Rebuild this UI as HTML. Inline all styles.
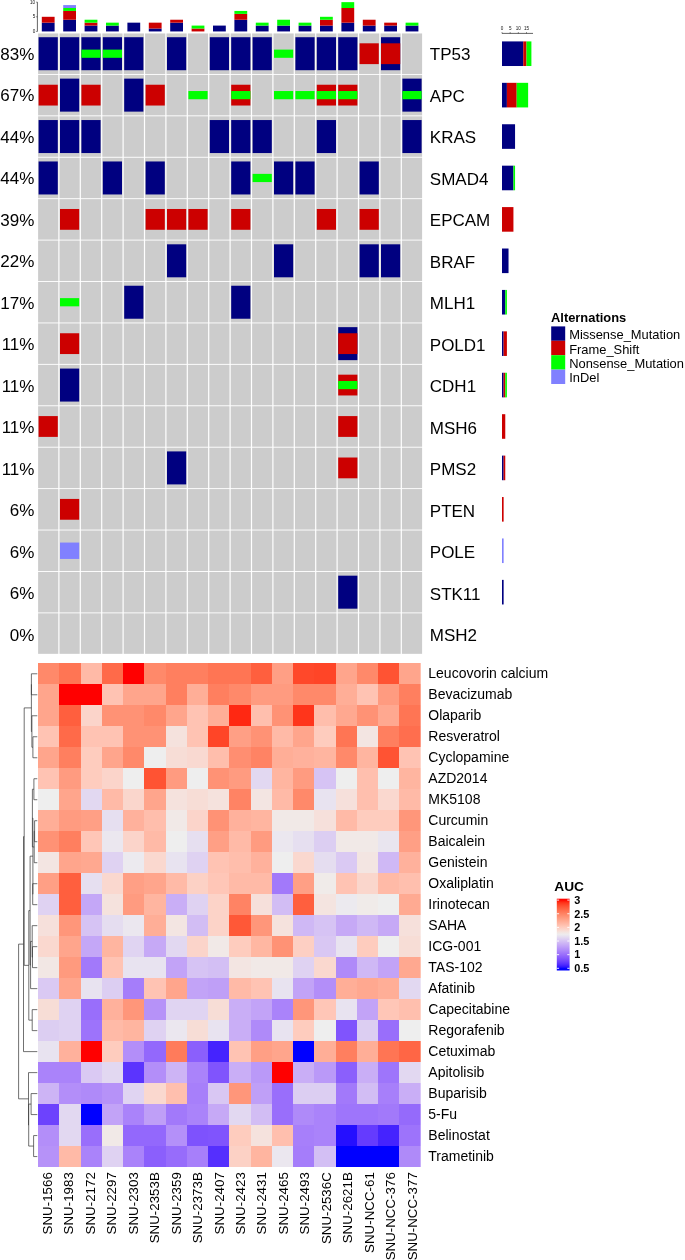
<!DOCTYPE html>
<html><head><meta charset="utf-8"><title>Oncoprint and drug response heatmap</title>
<style>html,body{margin:0;padding:0;background:#fff}body{width:685px;height:1260px;overflow:hidden;font-family:"Liberation Sans",sans-serif}svg{display:block;will-change:transform}</style>
</head><body>
<svg width="685" height="1260" viewBox="0 0 685 1260" font-family="Liberation Sans, sans-serif">
<rect width="685" height="1260" fill="#fff"/>
<g shape-rendering="auto">
<rect x="38.10" y="33.46" width="20.2" height="40.5" fill="#CCCCCC"/>
<rect x="59.50" y="33.46" width="20.2" height="40.5" fill="#CCCCCC"/>
<rect x="80.90" y="33.46" width="20.2" height="40.5" fill="#CCCCCC"/>
<rect x="102.30" y="33.46" width="20.2" height="40.5" fill="#CCCCCC"/>
<rect x="123.70" y="33.46" width="20.2" height="40.5" fill="#CCCCCC"/>
<rect x="145.10" y="33.46" width="20.2" height="40.5" fill="#CCCCCC"/>
<rect x="166.50" y="33.46" width="20.2" height="40.5" fill="#CCCCCC"/>
<rect x="187.90" y="33.46" width="20.2" height="40.5" fill="#CCCCCC"/>
<rect x="209.30" y="33.46" width="20.2" height="40.5" fill="#CCCCCC"/>
<rect x="230.70" y="33.46" width="20.2" height="40.5" fill="#CCCCCC"/>
<rect x="252.10" y="33.46" width="20.2" height="40.5" fill="#CCCCCC"/>
<rect x="273.50" y="33.46" width="20.2" height="40.5" fill="#CCCCCC"/>
<rect x="294.90" y="33.46" width="20.2" height="40.5" fill="#CCCCCC"/>
<rect x="316.30" y="33.46" width="20.2" height="40.5" fill="#CCCCCC"/>
<rect x="337.70" y="33.46" width="20.2" height="40.5" fill="#CCCCCC"/>
<rect x="359.10" y="33.46" width="20.2" height="40.5" fill="#CCCCCC"/>
<rect x="380.50" y="33.46" width="20.2" height="40.5" fill="#CCCCCC"/>
<rect x="401.90" y="33.46" width="20.2" height="40.5" fill="#CCCCCC"/>
<rect x="38.60" y="37.21" width="19.2" height="33.0" fill="#000080"/>
<rect x="60.00" y="37.21" width="19.2" height="33.0" fill="#000080"/>
<rect x="81.40" y="37.21" width="19.2" height="33.0" fill="#000080"/>
<rect x="81.40" y="49.61" width="19.2" height="8.2" fill="#00FF00"/>
<rect x="102.80" y="37.21" width="19.2" height="33.0" fill="#000080"/>
<rect x="102.80" y="49.61" width="19.2" height="8.2" fill="#00FF00"/>
<rect x="124.20" y="37.21" width="19.2" height="33.0" fill="#000080"/>
<rect x="167.00" y="37.21" width="19.2" height="33.0" fill="#000080"/>
<rect x="209.80" y="37.21" width="19.2" height="33.0" fill="#000080"/>
<rect x="231.20" y="37.21" width="19.2" height="33.0" fill="#000080"/>
<rect x="252.60" y="37.21" width="19.2" height="33.0" fill="#000080"/>
<rect x="274.00" y="49.61" width="19.2" height="8.2" fill="#00FF00"/>
<rect x="295.40" y="37.21" width="19.2" height="33.0" fill="#000080"/>
<rect x="316.80" y="37.21" width="19.2" height="33.0" fill="#000080"/>
<rect x="338.20" y="37.21" width="19.2" height="33.0" fill="#000080"/>
<rect x="359.60" y="43.31" width="19.2" height="20.8" fill="#CC0000"/>
<rect x="381.00" y="37.21" width="19.2" height="33.0" fill="#000080"/>
<rect x="381.00" y="43.31" width="19.2" height="20.8" fill="#CC0000"/>
<rect x="38.10" y="74.88" width="20.2" height="40.5" fill="#CCCCCC"/>
<rect x="59.50" y="74.88" width="20.2" height="40.5" fill="#CCCCCC"/>
<rect x="80.90" y="74.88" width="20.2" height="40.5" fill="#CCCCCC"/>
<rect x="102.30" y="74.88" width="20.2" height="40.5" fill="#CCCCCC"/>
<rect x="123.70" y="74.88" width="20.2" height="40.5" fill="#CCCCCC"/>
<rect x="145.10" y="74.88" width="20.2" height="40.5" fill="#CCCCCC"/>
<rect x="166.50" y="74.88" width="20.2" height="40.5" fill="#CCCCCC"/>
<rect x="187.90" y="74.88" width="20.2" height="40.5" fill="#CCCCCC"/>
<rect x="209.30" y="74.88" width="20.2" height="40.5" fill="#CCCCCC"/>
<rect x="230.70" y="74.88" width="20.2" height="40.5" fill="#CCCCCC"/>
<rect x="252.10" y="74.88" width="20.2" height="40.5" fill="#CCCCCC"/>
<rect x="273.50" y="74.88" width="20.2" height="40.5" fill="#CCCCCC"/>
<rect x="294.90" y="74.88" width="20.2" height="40.5" fill="#CCCCCC"/>
<rect x="316.30" y="74.88" width="20.2" height="40.5" fill="#CCCCCC"/>
<rect x="337.70" y="74.88" width="20.2" height="40.5" fill="#CCCCCC"/>
<rect x="359.10" y="74.88" width="20.2" height="40.5" fill="#CCCCCC"/>
<rect x="380.50" y="74.88" width="20.2" height="40.5" fill="#CCCCCC"/>
<rect x="401.90" y="74.88" width="20.2" height="40.5" fill="#CCCCCC"/>
<rect x="38.60" y="84.73" width="19.2" height="20.8" fill="#CC0000"/>
<rect x="60.00" y="78.63" width="19.2" height="33.0" fill="#000080"/>
<rect x="81.40" y="84.73" width="19.2" height="20.8" fill="#CC0000"/>
<rect x="124.20" y="78.63" width="19.2" height="33.0" fill="#000080"/>
<rect x="145.60" y="84.73" width="19.2" height="20.8" fill="#CC0000"/>
<rect x="188.40" y="91.03" width="19.2" height="8.2" fill="#00FF00"/>
<rect x="231.20" y="84.73" width="19.2" height="20.8" fill="#CC0000"/>
<rect x="231.20" y="91.03" width="19.2" height="8.2" fill="#00FF00"/>
<rect x="274.00" y="91.03" width="19.2" height="8.2" fill="#00FF00"/>
<rect x="295.40" y="91.03" width="19.2" height="8.2" fill="#00FF00"/>
<rect x="316.80" y="84.73" width="19.2" height="20.8" fill="#CC0000"/>
<rect x="316.80" y="91.03" width="19.2" height="8.2" fill="#00FF00"/>
<rect x="338.20" y="84.73" width="19.2" height="20.8" fill="#CC0000"/>
<rect x="338.20" y="91.03" width="19.2" height="8.2" fill="#00FF00"/>
<rect x="402.40" y="78.63" width="19.2" height="33.0" fill="#000080"/>
<rect x="402.40" y="91.03" width="19.2" height="8.2" fill="#00FF00"/>
<rect x="38.10" y="116.30" width="20.2" height="40.5" fill="#CCCCCC"/>
<rect x="59.50" y="116.30" width="20.2" height="40.5" fill="#CCCCCC"/>
<rect x="80.90" y="116.30" width="20.2" height="40.5" fill="#CCCCCC"/>
<rect x="102.30" y="116.30" width="20.2" height="40.5" fill="#CCCCCC"/>
<rect x="123.70" y="116.30" width="20.2" height="40.5" fill="#CCCCCC"/>
<rect x="145.10" y="116.30" width="20.2" height="40.5" fill="#CCCCCC"/>
<rect x="166.50" y="116.30" width="20.2" height="40.5" fill="#CCCCCC"/>
<rect x="187.90" y="116.30" width="20.2" height="40.5" fill="#CCCCCC"/>
<rect x="209.30" y="116.30" width="20.2" height="40.5" fill="#CCCCCC"/>
<rect x="230.70" y="116.30" width="20.2" height="40.5" fill="#CCCCCC"/>
<rect x="252.10" y="116.30" width="20.2" height="40.5" fill="#CCCCCC"/>
<rect x="273.50" y="116.30" width="20.2" height="40.5" fill="#CCCCCC"/>
<rect x="294.90" y="116.30" width="20.2" height="40.5" fill="#CCCCCC"/>
<rect x="316.30" y="116.30" width="20.2" height="40.5" fill="#CCCCCC"/>
<rect x="337.70" y="116.30" width="20.2" height="40.5" fill="#CCCCCC"/>
<rect x="359.10" y="116.30" width="20.2" height="40.5" fill="#CCCCCC"/>
<rect x="380.50" y="116.30" width="20.2" height="40.5" fill="#CCCCCC"/>
<rect x="401.90" y="116.30" width="20.2" height="40.5" fill="#CCCCCC"/>
<rect x="38.60" y="120.05" width="19.2" height="33.0" fill="#000080"/>
<rect x="60.00" y="120.05" width="19.2" height="33.0" fill="#000080"/>
<rect x="81.40" y="120.05" width="19.2" height="33.0" fill="#000080"/>
<rect x="209.80" y="120.05" width="19.2" height="33.0" fill="#000080"/>
<rect x="231.20" y="120.05" width="19.2" height="33.0" fill="#000080"/>
<rect x="252.60" y="120.05" width="19.2" height="33.0" fill="#000080"/>
<rect x="316.80" y="120.05" width="19.2" height="33.0" fill="#000080"/>
<rect x="402.40" y="120.05" width="19.2" height="33.0" fill="#000080"/>
<rect x="38.10" y="157.72" width="20.2" height="40.5" fill="#CCCCCC"/>
<rect x="59.50" y="157.72" width="20.2" height="40.5" fill="#CCCCCC"/>
<rect x="80.90" y="157.72" width="20.2" height="40.5" fill="#CCCCCC"/>
<rect x="102.30" y="157.72" width="20.2" height="40.5" fill="#CCCCCC"/>
<rect x="123.70" y="157.72" width="20.2" height="40.5" fill="#CCCCCC"/>
<rect x="145.10" y="157.72" width="20.2" height="40.5" fill="#CCCCCC"/>
<rect x="166.50" y="157.72" width="20.2" height="40.5" fill="#CCCCCC"/>
<rect x="187.90" y="157.72" width="20.2" height="40.5" fill="#CCCCCC"/>
<rect x="209.30" y="157.72" width="20.2" height="40.5" fill="#CCCCCC"/>
<rect x="230.70" y="157.72" width="20.2" height="40.5" fill="#CCCCCC"/>
<rect x="252.10" y="157.72" width="20.2" height="40.5" fill="#CCCCCC"/>
<rect x="273.50" y="157.72" width="20.2" height="40.5" fill="#CCCCCC"/>
<rect x="294.90" y="157.72" width="20.2" height="40.5" fill="#CCCCCC"/>
<rect x="316.30" y="157.72" width="20.2" height="40.5" fill="#CCCCCC"/>
<rect x="337.70" y="157.72" width="20.2" height="40.5" fill="#CCCCCC"/>
<rect x="359.10" y="157.72" width="20.2" height="40.5" fill="#CCCCCC"/>
<rect x="380.50" y="157.72" width="20.2" height="40.5" fill="#CCCCCC"/>
<rect x="401.90" y="157.72" width="20.2" height="40.5" fill="#CCCCCC"/>
<rect x="38.60" y="161.47" width="19.2" height="33.0" fill="#000080"/>
<rect x="102.80" y="161.47" width="19.2" height="33.0" fill="#000080"/>
<rect x="145.60" y="161.47" width="19.2" height="33.0" fill="#000080"/>
<rect x="231.20" y="161.47" width="19.2" height="33.0" fill="#000080"/>
<rect x="252.60" y="173.87" width="19.2" height="8.2" fill="#00FF00"/>
<rect x="274.00" y="161.47" width="19.2" height="33.0" fill="#000080"/>
<rect x="295.40" y="161.47" width="19.2" height="33.0" fill="#000080"/>
<rect x="359.60" y="161.47" width="19.2" height="33.0" fill="#000080"/>
<rect x="38.10" y="199.14" width="20.2" height="40.5" fill="#CCCCCC"/>
<rect x="59.50" y="199.14" width="20.2" height="40.5" fill="#CCCCCC"/>
<rect x="80.90" y="199.14" width="20.2" height="40.5" fill="#CCCCCC"/>
<rect x="102.30" y="199.14" width="20.2" height="40.5" fill="#CCCCCC"/>
<rect x="123.70" y="199.14" width="20.2" height="40.5" fill="#CCCCCC"/>
<rect x="145.10" y="199.14" width="20.2" height="40.5" fill="#CCCCCC"/>
<rect x="166.50" y="199.14" width="20.2" height="40.5" fill="#CCCCCC"/>
<rect x="187.90" y="199.14" width="20.2" height="40.5" fill="#CCCCCC"/>
<rect x="209.30" y="199.14" width="20.2" height="40.5" fill="#CCCCCC"/>
<rect x="230.70" y="199.14" width="20.2" height="40.5" fill="#CCCCCC"/>
<rect x="252.10" y="199.14" width="20.2" height="40.5" fill="#CCCCCC"/>
<rect x="273.50" y="199.14" width="20.2" height="40.5" fill="#CCCCCC"/>
<rect x="294.90" y="199.14" width="20.2" height="40.5" fill="#CCCCCC"/>
<rect x="316.30" y="199.14" width="20.2" height="40.5" fill="#CCCCCC"/>
<rect x="337.70" y="199.14" width="20.2" height="40.5" fill="#CCCCCC"/>
<rect x="359.10" y="199.14" width="20.2" height="40.5" fill="#CCCCCC"/>
<rect x="380.50" y="199.14" width="20.2" height="40.5" fill="#CCCCCC"/>
<rect x="401.90" y="199.14" width="20.2" height="40.5" fill="#CCCCCC"/>
<rect x="60.00" y="208.99" width="19.2" height="20.8" fill="#CC0000"/>
<rect x="145.60" y="208.99" width="19.2" height="20.8" fill="#CC0000"/>
<rect x="167.00" y="208.99" width="19.2" height="20.8" fill="#CC0000"/>
<rect x="188.40" y="208.99" width="19.2" height="20.8" fill="#CC0000"/>
<rect x="231.20" y="208.99" width="19.2" height="20.8" fill="#CC0000"/>
<rect x="316.80" y="208.99" width="19.2" height="20.8" fill="#CC0000"/>
<rect x="359.60" y="208.99" width="19.2" height="20.8" fill="#CC0000"/>
<rect x="38.10" y="240.56" width="20.2" height="40.5" fill="#CCCCCC"/>
<rect x="59.50" y="240.56" width="20.2" height="40.5" fill="#CCCCCC"/>
<rect x="80.90" y="240.56" width="20.2" height="40.5" fill="#CCCCCC"/>
<rect x="102.30" y="240.56" width="20.2" height="40.5" fill="#CCCCCC"/>
<rect x="123.70" y="240.56" width="20.2" height="40.5" fill="#CCCCCC"/>
<rect x="145.10" y="240.56" width="20.2" height="40.5" fill="#CCCCCC"/>
<rect x="166.50" y="240.56" width="20.2" height="40.5" fill="#CCCCCC"/>
<rect x="187.90" y="240.56" width="20.2" height="40.5" fill="#CCCCCC"/>
<rect x="209.30" y="240.56" width="20.2" height="40.5" fill="#CCCCCC"/>
<rect x="230.70" y="240.56" width="20.2" height="40.5" fill="#CCCCCC"/>
<rect x="252.10" y="240.56" width="20.2" height="40.5" fill="#CCCCCC"/>
<rect x="273.50" y="240.56" width="20.2" height="40.5" fill="#CCCCCC"/>
<rect x="294.90" y="240.56" width="20.2" height="40.5" fill="#CCCCCC"/>
<rect x="316.30" y="240.56" width="20.2" height="40.5" fill="#CCCCCC"/>
<rect x="337.70" y="240.56" width="20.2" height="40.5" fill="#CCCCCC"/>
<rect x="359.10" y="240.56" width="20.2" height="40.5" fill="#CCCCCC"/>
<rect x="380.50" y="240.56" width="20.2" height="40.5" fill="#CCCCCC"/>
<rect x="401.90" y="240.56" width="20.2" height="40.5" fill="#CCCCCC"/>
<rect x="167.00" y="244.31" width="19.2" height="33.0" fill="#000080"/>
<rect x="274.00" y="244.31" width="19.2" height="33.0" fill="#000080"/>
<rect x="359.60" y="244.31" width="19.2" height="33.0" fill="#000080"/>
<rect x="381.00" y="244.31" width="19.2" height="33.0" fill="#000080"/>
<rect x="38.10" y="281.98" width="20.2" height="40.5" fill="#CCCCCC"/>
<rect x="59.50" y="281.98" width="20.2" height="40.5" fill="#CCCCCC"/>
<rect x="80.90" y="281.98" width="20.2" height="40.5" fill="#CCCCCC"/>
<rect x="102.30" y="281.98" width="20.2" height="40.5" fill="#CCCCCC"/>
<rect x="123.70" y="281.98" width="20.2" height="40.5" fill="#CCCCCC"/>
<rect x="145.10" y="281.98" width="20.2" height="40.5" fill="#CCCCCC"/>
<rect x="166.50" y="281.98" width="20.2" height="40.5" fill="#CCCCCC"/>
<rect x="187.90" y="281.98" width="20.2" height="40.5" fill="#CCCCCC"/>
<rect x="209.30" y="281.98" width="20.2" height="40.5" fill="#CCCCCC"/>
<rect x="230.70" y="281.98" width="20.2" height="40.5" fill="#CCCCCC"/>
<rect x="252.10" y="281.98" width="20.2" height="40.5" fill="#CCCCCC"/>
<rect x="273.50" y="281.98" width="20.2" height="40.5" fill="#CCCCCC"/>
<rect x="294.90" y="281.98" width="20.2" height="40.5" fill="#CCCCCC"/>
<rect x="316.30" y="281.98" width="20.2" height="40.5" fill="#CCCCCC"/>
<rect x="337.70" y="281.98" width="20.2" height="40.5" fill="#CCCCCC"/>
<rect x="359.10" y="281.98" width="20.2" height="40.5" fill="#CCCCCC"/>
<rect x="380.50" y="281.98" width="20.2" height="40.5" fill="#CCCCCC"/>
<rect x="401.90" y="281.98" width="20.2" height="40.5" fill="#CCCCCC"/>
<rect x="60.00" y="298.13" width="19.2" height="8.2" fill="#00FF00"/>
<rect x="124.20" y="285.73" width="19.2" height="33.0" fill="#000080"/>
<rect x="231.20" y="285.73" width="19.2" height="33.0" fill="#000080"/>
<rect x="38.10" y="323.40" width="20.2" height="40.5" fill="#CCCCCC"/>
<rect x="59.50" y="323.40" width="20.2" height="40.5" fill="#CCCCCC"/>
<rect x="80.90" y="323.40" width="20.2" height="40.5" fill="#CCCCCC"/>
<rect x="102.30" y="323.40" width="20.2" height="40.5" fill="#CCCCCC"/>
<rect x="123.70" y="323.40" width="20.2" height="40.5" fill="#CCCCCC"/>
<rect x="145.10" y="323.40" width="20.2" height="40.5" fill="#CCCCCC"/>
<rect x="166.50" y="323.40" width="20.2" height="40.5" fill="#CCCCCC"/>
<rect x="187.90" y="323.40" width="20.2" height="40.5" fill="#CCCCCC"/>
<rect x="209.30" y="323.40" width="20.2" height="40.5" fill="#CCCCCC"/>
<rect x="230.70" y="323.40" width="20.2" height="40.5" fill="#CCCCCC"/>
<rect x="252.10" y="323.40" width="20.2" height="40.5" fill="#CCCCCC"/>
<rect x="273.50" y="323.40" width="20.2" height="40.5" fill="#CCCCCC"/>
<rect x="294.90" y="323.40" width="20.2" height="40.5" fill="#CCCCCC"/>
<rect x="316.30" y="323.40" width="20.2" height="40.5" fill="#CCCCCC"/>
<rect x="337.70" y="323.40" width="20.2" height="40.5" fill="#CCCCCC"/>
<rect x="359.10" y="323.40" width="20.2" height="40.5" fill="#CCCCCC"/>
<rect x="380.50" y="323.40" width="20.2" height="40.5" fill="#CCCCCC"/>
<rect x="401.90" y="323.40" width="20.2" height="40.5" fill="#CCCCCC"/>
<rect x="60.00" y="333.25" width="19.2" height="20.8" fill="#CC0000"/>
<rect x="338.20" y="327.15" width="19.2" height="33.0" fill="#000080"/>
<rect x="338.20" y="333.25" width="19.2" height="20.8" fill="#CC0000"/>
<rect x="38.10" y="364.82" width="20.2" height="40.5" fill="#CCCCCC"/>
<rect x="59.50" y="364.82" width="20.2" height="40.5" fill="#CCCCCC"/>
<rect x="80.90" y="364.82" width="20.2" height="40.5" fill="#CCCCCC"/>
<rect x="102.30" y="364.82" width="20.2" height="40.5" fill="#CCCCCC"/>
<rect x="123.70" y="364.82" width="20.2" height="40.5" fill="#CCCCCC"/>
<rect x="145.10" y="364.82" width="20.2" height="40.5" fill="#CCCCCC"/>
<rect x="166.50" y="364.82" width="20.2" height="40.5" fill="#CCCCCC"/>
<rect x="187.90" y="364.82" width="20.2" height="40.5" fill="#CCCCCC"/>
<rect x="209.30" y="364.82" width="20.2" height="40.5" fill="#CCCCCC"/>
<rect x="230.70" y="364.82" width="20.2" height="40.5" fill="#CCCCCC"/>
<rect x="252.10" y="364.82" width="20.2" height="40.5" fill="#CCCCCC"/>
<rect x="273.50" y="364.82" width="20.2" height="40.5" fill="#CCCCCC"/>
<rect x="294.90" y="364.82" width="20.2" height="40.5" fill="#CCCCCC"/>
<rect x="316.30" y="364.82" width="20.2" height="40.5" fill="#CCCCCC"/>
<rect x="337.70" y="364.82" width="20.2" height="40.5" fill="#CCCCCC"/>
<rect x="359.10" y="364.82" width="20.2" height="40.5" fill="#CCCCCC"/>
<rect x="380.50" y="364.82" width="20.2" height="40.5" fill="#CCCCCC"/>
<rect x="401.90" y="364.82" width="20.2" height="40.5" fill="#CCCCCC"/>
<rect x="60.00" y="368.57" width="19.2" height="33.0" fill="#000080"/>
<rect x="338.20" y="374.67" width="19.2" height="20.8" fill="#CC0000"/>
<rect x="338.20" y="380.97" width="19.2" height="8.2" fill="#00FF00"/>
<rect x="38.10" y="406.24" width="20.2" height="40.5" fill="#CCCCCC"/>
<rect x="59.50" y="406.24" width="20.2" height="40.5" fill="#CCCCCC"/>
<rect x="80.90" y="406.24" width="20.2" height="40.5" fill="#CCCCCC"/>
<rect x="102.30" y="406.24" width="20.2" height="40.5" fill="#CCCCCC"/>
<rect x="123.70" y="406.24" width="20.2" height="40.5" fill="#CCCCCC"/>
<rect x="145.10" y="406.24" width="20.2" height="40.5" fill="#CCCCCC"/>
<rect x="166.50" y="406.24" width="20.2" height="40.5" fill="#CCCCCC"/>
<rect x="187.90" y="406.24" width="20.2" height="40.5" fill="#CCCCCC"/>
<rect x="209.30" y="406.24" width="20.2" height="40.5" fill="#CCCCCC"/>
<rect x="230.70" y="406.24" width="20.2" height="40.5" fill="#CCCCCC"/>
<rect x="252.10" y="406.24" width="20.2" height="40.5" fill="#CCCCCC"/>
<rect x="273.50" y="406.24" width="20.2" height="40.5" fill="#CCCCCC"/>
<rect x="294.90" y="406.24" width="20.2" height="40.5" fill="#CCCCCC"/>
<rect x="316.30" y="406.24" width="20.2" height="40.5" fill="#CCCCCC"/>
<rect x="337.70" y="406.24" width="20.2" height="40.5" fill="#CCCCCC"/>
<rect x="359.10" y="406.24" width="20.2" height="40.5" fill="#CCCCCC"/>
<rect x="380.50" y="406.24" width="20.2" height="40.5" fill="#CCCCCC"/>
<rect x="401.90" y="406.24" width="20.2" height="40.5" fill="#CCCCCC"/>
<rect x="38.60" y="416.09" width="19.2" height="20.8" fill="#CC0000"/>
<rect x="338.20" y="416.09" width="19.2" height="20.8" fill="#CC0000"/>
<rect x="38.10" y="447.66" width="20.2" height="40.5" fill="#CCCCCC"/>
<rect x="59.50" y="447.66" width="20.2" height="40.5" fill="#CCCCCC"/>
<rect x="80.90" y="447.66" width="20.2" height="40.5" fill="#CCCCCC"/>
<rect x="102.30" y="447.66" width="20.2" height="40.5" fill="#CCCCCC"/>
<rect x="123.70" y="447.66" width="20.2" height="40.5" fill="#CCCCCC"/>
<rect x="145.10" y="447.66" width="20.2" height="40.5" fill="#CCCCCC"/>
<rect x="166.50" y="447.66" width="20.2" height="40.5" fill="#CCCCCC"/>
<rect x="187.90" y="447.66" width="20.2" height="40.5" fill="#CCCCCC"/>
<rect x="209.30" y="447.66" width="20.2" height="40.5" fill="#CCCCCC"/>
<rect x="230.70" y="447.66" width="20.2" height="40.5" fill="#CCCCCC"/>
<rect x="252.10" y="447.66" width="20.2" height="40.5" fill="#CCCCCC"/>
<rect x="273.50" y="447.66" width="20.2" height="40.5" fill="#CCCCCC"/>
<rect x="294.90" y="447.66" width="20.2" height="40.5" fill="#CCCCCC"/>
<rect x="316.30" y="447.66" width="20.2" height="40.5" fill="#CCCCCC"/>
<rect x="337.70" y="447.66" width="20.2" height="40.5" fill="#CCCCCC"/>
<rect x="359.10" y="447.66" width="20.2" height="40.5" fill="#CCCCCC"/>
<rect x="380.50" y="447.66" width="20.2" height="40.5" fill="#CCCCCC"/>
<rect x="401.90" y="447.66" width="20.2" height="40.5" fill="#CCCCCC"/>
<rect x="167.00" y="451.41" width="19.2" height="33.0" fill="#000080"/>
<rect x="338.20" y="457.51" width="19.2" height="20.8" fill="#CC0000"/>
<rect x="38.10" y="489.08" width="20.2" height="40.5" fill="#CCCCCC"/>
<rect x="59.50" y="489.08" width="20.2" height="40.5" fill="#CCCCCC"/>
<rect x="80.90" y="489.08" width="20.2" height="40.5" fill="#CCCCCC"/>
<rect x="102.30" y="489.08" width="20.2" height="40.5" fill="#CCCCCC"/>
<rect x="123.70" y="489.08" width="20.2" height="40.5" fill="#CCCCCC"/>
<rect x="145.10" y="489.08" width="20.2" height="40.5" fill="#CCCCCC"/>
<rect x="166.50" y="489.08" width="20.2" height="40.5" fill="#CCCCCC"/>
<rect x="187.90" y="489.08" width="20.2" height="40.5" fill="#CCCCCC"/>
<rect x="209.30" y="489.08" width="20.2" height="40.5" fill="#CCCCCC"/>
<rect x="230.70" y="489.08" width="20.2" height="40.5" fill="#CCCCCC"/>
<rect x="252.10" y="489.08" width="20.2" height="40.5" fill="#CCCCCC"/>
<rect x="273.50" y="489.08" width="20.2" height="40.5" fill="#CCCCCC"/>
<rect x="294.90" y="489.08" width="20.2" height="40.5" fill="#CCCCCC"/>
<rect x="316.30" y="489.08" width="20.2" height="40.5" fill="#CCCCCC"/>
<rect x="337.70" y="489.08" width="20.2" height="40.5" fill="#CCCCCC"/>
<rect x="359.10" y="489.08" width="20.2" height="40.5" fill="#CCCCCC"/>
<rect x="380.50" y="489.08" width="20.2" height="40.5" fill="#CCCCCC"/>
<rect x="401.90" y="489.08" width="20.2" height="40.5" fill="#CCCCCC"/>
<rect x="60.00" y="498.93" width="19.2" height="20.8" fill="#CC0000"/>
<rect x="38.10" y="530.50" width="20.2" height="40.5" fill="#CCCCCC"/>
<rect x="59.50" y="530.50" width="20.2" height="40.5" fill="#CCCCCC"/>
<rect x="80.90" y="530.50" width="20.2" height="40.5" fill="#CCCCCC"/>
<rect x="102.30" y="530.50" width="20.2" height="40.5" fill="#CCCCCC"/>
<rect x="123.70" y="530.50" width="20.2" height="40.5" fill="#CCCCCC"/>
<rect x="145.10" y="530.50" width="20.2" height="40.5" fill="#CCCCCC"/>
<rect x="166.50" y="530.50" width="20.2" height="40.5" fill="#CCCCCC"/>
<rect x="187.90" y="530.50" width="20.2" height="40.5" fill="#CCCCCC"/>
<rect x="209.30" y="530.50" width="20.2" height="40.5" fill="#CCCCCC"/>
<rect x="230.70" y="530.50" width="20.2" height="40.5" fill="#CCCCCC"/>
<rect x="252.10" y="530.50" width="20.2" height="40.5" fill="#CCCCCC"/>
<rect x="273.50" y="530.50" width="20.2" height="40.5" fill="#CCCCCC"/>
<rect x="294.90" y="530.50" width="20.2" height="40.5" fill="#CCCCCC"/>
<rect x="316.30" y="530.50" width="20.2" height="40.5" fill="#CCCCCC"/>
<rect x="337.70" y="530.50" width="20.2" height="40.5" fill="#CCCCCC"/>
<rect x="359.10" y="530.50" width="20.2" height="40.5" fill="#CCCCCC"/>
<rect x="380.50" y="530.50" width="20.2" height="40.5" fill="#CCCCCC"/>
<rect x="401.90" y="530.50" width="20.2" height="40.5" fill="#CCCCCC"/>
<rect x="60.00" y="542.55" width="19.2" height="16.4" fill="#8080FF"/>
<rect x="38.10" y="571.92" width="20.2" height="40.5" fill="#CCCCCC"/>
<rect x="59.50" y="571.92" width="20.2" height="40.5" fill="#CCCCCC"/>
<rect x="80.90" y="571.92" width="20.2" height="40.5" fill="#CCCCCC"/>
<rect x="102.30" y="571.92" width="20.2" height="40.5" fill="#CCCCCC"/>
<rect x="123.70" y="571.92" width="20.2" height="40.5" fill="#CCCCCC"/>
<rect x="145.10" y="571.92" width="20.2" height="40.5" fill="#CCCCCC"/>
<rect x="166.50" y="571.92" width="20.2" height="40.5" fill="#CCCCCC"/>
<rect x="187.90" y="571.92" width="20.2" height="40.5" fill="#CCCCCC"/>
<rect x="209.30" y="571.92" width="20.2" height="40.5" fill="#CCCCCC"/>
<rect x="230.70" y="571.92" width="20.2" height="40.5" fill="#CCCCCC"/>
<rect x="252.10" y="571.92" width="20.2" height="40.5" fill="#CCCCCC"/>
<rect x="273.50" y="571.92" width="20.2" height="40.5" fill="#CCCCCC"/>
<rect x="294.90" y="571.92" width="20.2" height="40.5" fill="#CCCCCC"/>
<rect x="316.30" y="571.92" width="20.2" height="40.5" fill="#CCCCCC"/>
<rect x="337.70" y="571.92" width="20.2" height="40.5" fill="#CCCCCC"/>
<rect x="359.10" y="571.92" width="20.2" height="40.5" fill="#CCCCCC"/>
<rect x="380.50" y="571.92" width="20.2" height="40.5" fill="#CCCCCC"/>
<rect x="401.90" y="571.92" width="20.2" height="40.5" fill="#CCCCCC"/>
<rect x="338.20" y="575.67" width="19.2" height="33.0" fill="#000080"/>
<rect x="38.10" y="613.34" width="20.2" height="40.5" fill="#CCCCCC"/>
<rect x="59.50" y="613.34" width="20.2" height="40.5" fill="#CCCCCC"/>
<rect x="80.90" y="613.34" width="20.2" height="40.5" fill="#CCCCCC"/>
<rect x="102.30" y="613.34" width="20.2" height="40.5" fill="#CCCCCC"/>
<rect x="123.70" y="613.34" width="20.2" height="40.5" fill="#CCCCCC"/>
<rect x="145.10" y="613.34" width="20.2" height="40.5" fill="#CCCCCC"/>
<rect x="166.50" y="613.34" width="20.2" height="40.5" fill="#CCCCCC"/>
<rect x="187.90" y="613.34" width="20.2" height="40.5" fill="#CCCCCC"/>
<rect x="209.30" y="613.34" width="20.2" height="40.5" fill="#CCCCCC"/>
<rect x="230.70" y="613.34" width="20.2" height="40.5" fill="#CCCCCC"/>
<rect x="252.10" y="613.34" width="20.2" height="40.5" fill="#CCCCCC"/>
<rect x="273.50" y="613.34" width="20.2" height="40.5" fill="#CCCCCC"/>
<rect x="294.90" y="613.34" width="20.2" height="40.5" fill="#CCCCCC"/>
<rect x="316.30" y="613.34" width="20.2" height="40.5" fill="#CCCCCC"/>
<rect x="337.70" y="613.34" width="20.2" height="40.5" fill="#CCCCCC"/>
<rect x="359.10" y="613.34" width="20.2" height="40.5" fill="#CCCCCC"/>
<rect x="380.50" y="613.34" width="20.2" height="40.5" fill="#CCCCCC"/>
<rect x="401.90" y="613.34" width="20.2" height="40.5" fill="#CCCCCC"/>
</g>
<rect x="41.80" y="22.66" width="12.8" height="8.79" fill="#000080"/>
<rect x="41.80" y="16.80" width="12.8" height="5.86" fill="#CC0000"/>
<rect x="63.20" y="19.73" width="12.8" height="11.72" fill="#000080"/>
<rect x="63.20" y="10.94" width="12.8" height="8.79" fill="#CC0000"/>
<rect x="63.20" y="8.01" width="12.8" height="2.93" fill="#00FF00"/>
<rect x="63.20" y="5.08" width="12.8" height="2.93" fill="#8080FF"/>
<rect x="84.60" y="25.59" width="12.8" height="5.86" fill="#000080"/>
<rect x="84.60" y="22.66" width="12.8" height="2.93" fill="#CC0000"/>
<rect x="84.60" y="19.73" width="12.8" height="2.93" fill="#00FF00"/>
<rect x="106.00" y="25.59" width="12.8" height="5.86" fill="#000080"/>
<rect x="106.00" y="22.66" width="12.8" height="2.93" fill="#00FF00"/>
<rect x="127.40" y="22.66" width="12.8" height="8.79" fill="#000080"/>
<rect x="148.80" y="28.52" width="12.8" height="2.93" fill="#000080"/>
<rect x="148.80" y="22.66" width="12.8" height="5.86" fill="#CC0000"/>
<rect x="170.20" y="22.66" width="12.8" height="8.79" fill="#000080"/>
<rect x="170.20" y="19.73" width="12.8" height="2.93" fill="#CC0000"/>
<rect x="191.60" y="28.52" width="12.8" height="2.93" fill="#CC0000"/>
<rect x="191.60" y="25.59" width="12.8" height="2.93" fill="#00FF00"/>
<rect x="213.00" y="25.59" width="12.8" height="5.86" fill="#000080"/>
<rect x="234.40" y="19.73" width="12.8" height="11.72" fill="#000080"/>
<rect x="234.40" y="13.87" width="12.8" height="5.86" fill="#CC0000"/>
<rect x="234.40" y="10.94" width="12.8" height="2.93" fill="#00FF00"/>
<rect x="255.80" y="25.59" width="12.8" height="5.86" fill="#000080"/>
<rect x="255.80" y="22.66" width="12.8" height="2.93" fill="#00FF00"/>
<rect x="277.20" y="25.59" width="12.8" height="5.86" fill="#000080"/>
<rect x="277.20" y="19.73" width="12.8" height="5.86" fill="#00FF00"/>
<rect x="298.60" y="25.59" width="12.8" height="5.86" fill="#000080"/>
<rect x="298.60" y="22.66" width="12.8" height="2.93" fill="#00FF00"/>
<rect x="320.00" y="25.59" width="12.8" height="5.86" fill="#000080"/>
<rect x="320.00" y="19.73" width="12.8" height="5.86" fill="#CC0000"/>
<rect x="320.00" y="16.80" width="12.8" height="2.93" fill="#00FF00"/>
<rect x="341.40" y="22.66" width="12.8" height="8.79" fill="#000080"/>
<rect x="341.40" y="8.01" width="12.8" height="14.65" fill="#CC0000"/>
<rect x="341.40" y="2.15" width="12.8" height="5.86" fill="#00FF00"/>
<rect x="362.80" y="25.59" width="12.8" height="5.86" fill="#000080"/>
<rect x="362.80" y="19.73" width="12.8" height="5.86" fill="#CC0000"/>
<rect x="384.20" y="25.59" width="12.8" height="5.86" fill="#000080"/>
<rect x="384.20" y="22.66" width="12.8" height="2.93" fill="#CC0000"/>
<rect x="405.60" y="25.59" width="12.8" height="5.86" fill="#000080"/>
<rect x="405.60" y="22.66" width="12.8" height="2.93" fill="#00FF00"/>
<path d="M37.4 31.45 V2.15" stroke="#222" stroke-width="0.7" fill="none"/>
<path d="M36.199999999999996 31.45 H37.4" stroke="#222" stroke-width="0.6"/>
<text x="35.199999999999996" y="32.95" font-size="4.6" text-anchor="end" fill="#111">0</text>
<path d="M36.199999999999996 16.80 H37.4" stroke="#222" stroke-width="0.6"/>
<text x="35.199999999999996" y="18.30" font-size="4.6" text-anchor="end" fill="#111">5</text>
<path d="M36.199999999999996 2.15 H37.4" stroke="#222" stroke-width="0.6"/>
<text x="35.199999999999996" y="3.65" font-size="4.6" text-anchor="end" fill="#111">10</text>
<text x="34.4" y="59.75" font-size="17" text-anchor="end" fill="#000">83%</text>
<text x="429.8" y="60.45" font-size="17" fill="#000">TP53</text>
<text x="34.4" y="101.25" font-size="17" text-anchor="end" fill="#000">67%</text>
<text x="429.8" y="101.92" font-size="17" fill="#000">APC</text>
<text x="34.4" y="142.75" font-size="17" text-anchor="end" fill="#000">44%</text>
<text x="429.8" y="143.39" font-size="17" fill="#000">KRAS</text>
<text x="34.4" y="184.25" font-size="17" text-anchor="end" fill="#000">44%</text>
<text x="429.8" y="184.86" font-size="17" fill="#000">SMAD4</text>
<text x="34.4" y="225.75" font-size="17" text-anchor="end" fill="#000">39%</text>
<text x="429.8" y="226.33" font-size="17" fill="#000">EPCAM</text>
<text x="34.4" y="267.25" font-size="17" text-anchor="end" fill="#000">22%</text>
<text x="429.8" y="267.80" font-size="17" fill="#000">BRAF</text>
<text x="34.4" y="308.75" font-size="17" text-anchor="end" fill="#000">17%</text>
<text x="429.8" y="309.27" font-size="17" fill="#000">MLH1</text>
<text x="34.4" y="350.25" font-size="17" text-anchor="end" fill="#000">11%</text>
<text x="429.8" y="350.74" font-size="17" fill="#000">POLD1</text>
<text x="34.4" y="391.75" font-size="17" text-anchor="end" fill="#000">11%</text>
<text x="429.8" y="392.21" font-size="17" fill="#000">CDH1</text>
<text x="34.4" y="433.25" font-size="17" text-anchor="end" fill="#000">11%</text>
<text x="429.8" y="433.68" font-size="17" fill="#000">MSH6</text>
<text x="34.4" y="474.75" font-size="17" text-anchor="end" fill="#000">11%</text>
<text x="429.8" y="475.15" font-size="17" fill="#000">PMS2</text>
<text x="34.4" y="516.25" font-size="17" text-anchor="end" fill="#000">6%</text>
<text x="429.8" y="516.62" font-size="17" fill="#000">PTEN</text>
<text x="34.4" y="557.75" font-size="17" text-anchor="end" fill="#000">6%</text>
<text x="429.8" y="558.09" font-size="17" fill="#000">POLE</text>
<text x="34.4" y="599.25" font-size="17" text-anchor="end" fill="#000">6%</text>
<text x="429.8" y="599.56" font-size="17" fill="#000">STK11</text>
<text x="34.4" y="640.75" font-size="17" text-anchor="end" fill="#000">0%</text>
<text x="429.8" y="641.03" font-size="17" fill="#000">MSH2</text>
<rect x="502.00" y="41.41" width="21.23" height="24.6" fill="#000080"/>
<rect x="523.23" y="41.41" width="3.27" height="24.6" fill="#CC0000"/>
<rect x="526.50" y="41.41" width="4.90" height="24.6" fill="#00FF00"/>
<rect x="502.00" y="82.83" width="4.90" height="24.6" fill="#000080"/>
<rect x="506.90" y="82.83" width="9.80" height="24.6" fill="#CC0000"/>
<rect x="516.70" y="82.83" width="11.43" height="24.6" fill="#00FF00"/>
<rect x="502.00" y="124.25" width="13.06" height="24.6" fill="#000080"/>
<rect x="502.00" y="165.67" width="11.43" height="24.6" fill="#000080"/>
<rect x="513.43" y="165.67" width="1.63" height="24.6" fill="#00FF00"/>
<rect x="502.00" y="207.09" width="11.43" height="24.6" fill="#CC0000"/>
<rect x="502.00" y="248.51" width="6.53" height="24.6" fill="#000080"/>
<rect x="502.00" y="289.93" width="3.27" height="24.6" fill="#000080"/>
<rect x="505.27" y="289.93" width="1.63" height="24.6" fill="#00FF00"/>
<rect x="502.00" y="331.35" width="1.63" height="24.6" fill="#000080"/>
<rect x="503.63" y="331.35" width="3.27" height="24.6" fill="#CC0000"/>
<rect x="502.00" y="372.77" width="1.63" height="24.6" fill="#000080"/>
<rect x="503.63" y="372.77" width="1.63" height="24.6" fill="#CC0000"/>
<rect x="505.27" y="372.77" width="1.63" height="24.6" fill="#00FF00"/>
<rect x="502.00" y="414.19" width="3.27" height="24.6" fill="#CC0000"/>
<rect x="502.00" y="455.61" width="1.63" height="24.6" fill="#000080"/>
<rect x="503.63" y="455.61" width="1.63" height="24.6" fill="#CC0000"/>
<rect x="502.00" y="497.03" width="1.63" height="24.6" fill="#CC0000"/>
<rect x="502.00" y="538.45" width="1.63" height="24.6" fill="#8080FF"/>
<rect x="502.00" y="579.87" width="1.63" height="24.6" fill="#000080"/>
<path d="M502.0 33.4 H533.03" stroke="#222" stroke-width="0.7" fill="none"/>
<path d="M502.00 33.4 v-1.2" stroke="#222" stroke-width="0.6"/>
<text x="502.00" y="30.20" font-size="4.6" text-anchor="middle" fill="#111">0</text>
<path d="M510.17 33.4 v-1.2" stroke="#222" stroke-width="0.6"/>
<text x="510.17" y="30.20" font-size="4.6" text-anchor="middle" fill="#111">5</text>
<path d="M518.33 33.4 v-1.2" stroke="#222" stroke-width="0.6"/>
<text x="518.33" y="30.20" font-size="4.6" text-anchor="middle" fill="#111">10</text>
<path d="M526.50 33.4 v-1.2" stroke="#222" stroke-width="0.6"/>
<text x="526.50" y="30.20" font-size="4.6" text-anchor="middle" fill="#111">15</text>
<text x="551" y="321.8" font-size="12.9" font-weight="bold" fill="#000">Alternations</text>
<rect x="551.2" y="326.40" width="14" height="14.4" fill="#000080"/>
<text x="569.2" y="339.10" font-size="12.9" fill="#000">Missense_Mutation</text>
<rect x="551.2" y="340.80" width="14" height="14.4" fill="#CC0000"/>
<text x="569.2" y="353.50" font-size="12.9" fill="#000">Frame_Shift</text>
<rect x="551.2" y="355.20" width="14" height="14.4" fill="#00FF00"/>
<text x="569.2" y="367.90" font-size="12.9" fill="#000">Nonsense_Mutation</text>
<rect x="551.2" y="369.60" width="14" height="14.4" fill="#8080FF"/>
<text x="569.2" y="382.30" font-size="12.9" fill="#000">InDel</text>
<g shape-rendering="crispEdges">
<rect x="38.00" y="663.30" width="21.56" height="21.29" fill="#ff896a"/>
<rect x="59.26" y="663.30" width="21.56" height="21.29" fill="#ff7554"/>
<rect x="80.52" y="663.30" width="21.56" height="21.29" fill="#ffbaa7"/>
<rect x="101.78" y="663.30" width="21.56" height="21.29" fill="#ff6a49"/>
<rect x="123.04" y="663.30" width="21.56" height="21.29" fill="#ff0000"/>
<rect x="144.30" y="663.30" width="21.56" height="21.29" fill="#ff896a"/>
<rect x="165.56" y="663.30" width="21.56" height="21.29" fill="#ff7f5f"/>
<rect x="186.82" y="663.30" width="21.56" height="21.29" fill="#ff7f5f"/>
<rect x="208.08" y="663.30" width="21.56" height="21.29" fill="#ff7554"/>
<rect x="229.34" y="663.30" width="21.56" height="21.29" fill="#ff7554"/>
<rect x="250.60" y="663.30" width="21.56" height="21.29" fill="#ff5f3e"/>
<rect x="271.86" y="663.30" width="21.56" height="21.29" fill="#ff9f85"/>
<rect x="293.12" y="663.30" width="21.56" height="21.29" fill="#ff482a"/>
<rect x="314.38" y="663.30" width="21.56" height="21.29" fill="#ff4527"/>
<rect x="335.64" y="663.30" width="21.56" height="21.29" fill="#ffa58c"/>
<rect x="356.90" y="663.30" width="21.56" height="21.29" fill="#ff896a"/>
<rect x="378.16" y="663.30" width="21.56" height="21.29" fill="#ff5333"/>
<rect x="399.42" y="663.30" width="21.56" height="21.29" fill="#ffa58c"/>
<rect x="38.00" y="684.29" width="21.56" height="21.29" fill="#ffa58c"/>
<rect x="59.26" y="684.29" width="21.56" height="21.29" fill="#ff0000"/>
<rect x="80.52" y="684.29" width="21.56" height="21.29" fill="#ff0000"/>
<rect x="101.78" y="684.29" width="21.56" height="21.29" fill="#ffc3b3"/>
<rect x="123.04" y="684.29" width="21.56" height="21.29" fill="#ffa58c"/>
<rect x="144.30" y="684.29" width="21.56" height="21.29" fill="#ffa58c"/>
<rect x="165.56" y="684.29" width="21.56" height="21.29" fill="#ff7f5f"/>
<rect x="186.82" y="684.29" width="21.56" height="21.29" fill="#ffae97"/>
<rect x="208.08" y="684.29" width="21.56" height="21.29" fill="#ff7f5f"/>
<rect x="229.34" y="684.29" width="21.56" height="21.29" fill="#ff896a"/>
<rect x="250.60" y="684.29" width="21.56" height="21.29" fill="#ff9b80"/>
<rect x="271.86" y="684.29" width="21.56" height="21.29" fill="#ff9b80"/>
<rect x="293.12" y="684.29" width="21.56" height="21.29" fill="#ff896a"/>
<rect x="314.38" y="684.29" width="21.56" height="21.29" fill="#ff896a"/>
<rect x="335.64" y="684.29" width="21.56" height="21.29" fill="#ffae97"/>
<rect x="356.90" y="684.29" width="21.56" height="21.29" fill="#ffc3b3"/>
<rect x="378.16" y="684.29" width="21.56" height="21.29" fill="#ff9b80"/>
<rect x="399.42" y="684.29" width="21.56" height="21.29" fill="#ff7f5f"/>
<rect x="38.00" y="705.28" width="21.56" height="21.29" fill="#ffa58c"/>
<rect x="59.26" y="705.28" width="21.56" height="21.29" fill="#ff5f3e"/>
<rect x="80.52" y="705.28" width="21.56" height="21.29" fill="#fbd4ca"/>
<rect x="101.78" y="705.28" width="21.56" height="21.29" fill="#ff9275"/>
<rect x="123.04" y="705.28" width="21.56" height="21.29" fill="#ff9275"/>
<rect x="144.30" y="705.28" width="21.56" height="21.29" fill="#ff896a"/>
<rect x="165.56" y="705.28" width="21.56" height="21.29" fill="#ffa58c"/>
<rect x="186.82" y="705.28" width="21.56" height="21.29" fill="#ffc3b3"/>
<rect x="208.08" y="705.28" width="21.56" height="21.29" fill="#ffae97"/>
<rect x="229.34" y="705.28" width="21.56" height="21.29" fill="#ff2812"/>
<rect x="250.60" y="705.28" width="21.56" height="21.29" fill="#ffbfae"/>
<rect x="271.86" y="705.28" width="21.56" height="21.29" fill="#ff9275"/>
<rect x="293.12" y="705.28" width="21.56" height="21.29" fill="#ff351b"/>
<rect x="314.38" y="705.28" width="21.56" height="21.29" fill="#ffbeac"/>
<rect x="335.64" y="705.28" width="21.56" height="21.29" fill="#ffa890"/>
<rect x="356.90" y="705.28" width="21.56" height="21.29" fill="#ff9275"/>
<rect x="378.16" y="705.28" width="21.56" height="21.29" fill="#ffa890"/>
<rect x="399.42" y="705.28" width="21.56" height="21.29" fill="#ff7554"/>
<rect x="38.00" y="726.27" width="21.56" height="21.29" fill="#ffc3b3"/>
<rect x="59.26" y="726.27" width="21.56" height="21.29" fill="#ff6a49"/>
<rect x="80.52" y="726.27" width="21.56" height="21.29" fill="#ffc3b3"/>
<rect x="101.78" y="726.27" width="21.56" height="21.29" fill="#ffc3b3"/>
<rect x="123.04" y="726.27" width="21.56" height="21.29" fill="#ff9275"/>
<rect x="144.30" y="726.27" width="21.56" height="21.29" fill="#ff9275"/>
<rect x="165.56" y="726.27" width="21.56" height="21.29" fill="#f5e2dd"/>
<rect x="186.82" y="726.27" width="21.56" height="21.29" fill="#ffc3b3"/>
<rect x="208.08" y="726.27" width="21.56" height="21.29" fill="#ff4527"/>
<rect x="229.34" y="726.27" width="21.56" height="21.29" fill="#ff9f85"/>
<rect x="250.60" y="726.27" width="21.56" height="21.29" fill="#ff9275"/>
<rect x="271.86" y="726.27" width="21.56" height="21.29" fill="#ffbaa7"/>
<rect x="293.12" y="726.27" width="21.56" height="21.29" fill="#ffa58c"/>
<rect x="314.38" y="726.27" width="21.56" height="21.29" fill="#feccbe"/>
<rect x="335.64" y="726.27" width="21.56" height="21.29" fill="#ff7554"/>
<rect x="356.90" y="726.27" width="21.56" height="21.29" fill="#f3e5e2"/>
<rect x="378.16" y="726.27" width="21.56" height="21.29" fill="#ff7f5f"/>
<rect x="399.42" y="726.27" width="21.56" height="21.29" fill="#ff6e4e"/>
<rect x="38.00" y="747.26" width="21.56" height="21.29" fill="#ffa58c"/>
<rect x="59.26" y="747.26" width="21.56" height="21.29" fill="#ff7f5f"/>
<rect x="80.52" y="747.26" width="21.56" height="21.29" fill="#feccbe"/>
<rect x="101.78" y="747.26" width="21.56" height="21.29" fill="#ffa58c"/>
<rect x="123.04" y="747.26" width="21.56" height="21.29" fill="#ff896a"/>
<rect x="144.30" y="747.26" width="21.56" height="21.29" fill="#eeeeee"/>
<rect x="165.56" y="747.26" width="21.56" height="21.29" fill="#f7ddd6"/>
<rect x="186.82" y="747.26" width="21.56" height="21.29" fill="#f9d9d1"/>
<rect x="208.08" y="747.26" width="21.56" height="21.29" fill="#ffbeac"/>
<rect x="229.34" y="747.26" width="21.56" height="21.29" fill="#ff8e71"/>
<rect x="250.60" y="747.26" width="21.56" height="21.29" fill="#ff8364"/>
<rect x="271.86" y="747.26" width="21.56" height="21.29" fill="#ffae97"/>
<rect x="293.12" y="747.26" width="21.56" height="21.29" fill="#ffb19c"/>
<rect x="314.38" y="747.26" width="21.56" height="21.29" fill="#ffb5a0"/>
<rect x="335.64" y="747.26" width="21.56" height="21.29" fill="#ff896a"/>
<rect x="356.90" y="747.26" width="21.56" height="21.29" fill="#ffb5a0"/>
<rect x="378.16" y="747.26" width="21.56" height="21.29" fill="#ff5333"/>
<rect x="399.42" y="747.26" width="21.56" height="21.29" fill="#ffc3b3"/>
<rect x="38.00" y="768.25" width="21.56" height="21.29" fill="#ffc3b3"/>
<rect x="59.26" y="768.25" width="21.56" height="21.29" fill="#ff9b80"/>
<rect x="80.52" y="768.25" width="21.56" height="21.29" fill="#feccbe"/>
<rect x="101.78" y="768.25" width="21.56" height="21.29" fill="#fbd4ca"/>
<rect x="123.04" y="768.25" width="21.56" height="21.29" fill="#eeeeee"/>
<rect x="144.30" y="768.25" width="21.56" height="21.29" fill="#ff5333"/>
<rect x="165.56" y="768.25" width="21.56" height="21.29" fill="#ff9b80"/>
<rect x="186.82" y="768.25" width="21.56" height="21.29" fill="#eeeeee"/>
<rect x="208.08" y="768.25" width="21.56" height="21.29" fill="#ff9275"/>
<rect x="229.34" y="768.25" width="21.56" height="21.29" fill="#ff9b80"/>
<rect x="250.60" y="768.25" width="21.56" height="21.29" fill="#e2d8f1"/>
<rect x="271.86" y="768.25" width="21.56" height="21.29" fill="#ffb5a0"/>
<rect x="293.12" y="768.25" width="21.56" height="21.29" fill="#ff9b80"/>
<rect x="314.38" y="768.25" width="21.56" height="21.29" fill="#d6c3f4"/>
<rect x="335.64" y="768.25" width="21.56" height="21.29" fill="#eeeeee"/>
<rect x="356.90" y="768.25" width="21.56" height="21.29" fill="#ffbfae"/>
<rect x="378.16" y="768.25" width="21.56" height="21.29" fill="#eeeeee"/>
<rect x="399.42" y="768.25" width="21.56" height="21.29" fill="#ffb5a0"/>
<rect x="38.00" y="789.24" width="21.56" height="21.29" fill="#eeeeee"/>
<rect x="59.26" y="789.24" width="21.56" height="21.29" fill="#ffa58c"/>
<rect x="80.52" y="789.24" width="21.56" height="21.29" fill="#e2d8f1"/>
<rect x="101.78" y="789.24" width="21.56" height="21.29" fill="#ffbaa7"/>
<rect x="123.04" y="789.24" width="21.56" height="21.29" fill="#fad6cc"/>
<rect x="144.30" y="789.24" width="21.56" height="21.29" fill="#ffa58c"/>
<rect x="165.56" y="789.24" width="21.56" height="21.29" fill="#f5e2dd"/>
<rect x="186.82" y="789.24" width="21.56" height="21.29" fill="#f7ddd6"/>
<rect x="208.08" y="789.24" width="21.56" height="21.29" fill="#f5e2dd"/>
<rect x="229.34" y="789.24" width="21.56" height="21.29" fill="#ff8364"/>
<rect x="250.60" y="789.24" width="21.56" height="21.29" fill="#f3e5e2"/>
<rect x="271.86" y="789.24" width="21.56" height="21.29" fill="#ffbaa7"/>
<rect x="293.12" y="789.24" width="21.56" height="21.29" fill="#ff896a"/>
<rect x="314.38" y="789.24" width="21.56" height="21.29" fill="#e8e3f0"/>
<rect x="335.64" y="789.24" width="21.56" height="21.29" fill="#f6e0db"/>
<rect x="356.90" y="789.24" width="21.56" height="21.29" fill="#ffbfae"/>
<rect x="378.16" y="789.24" width="21.56" height="21.29" fill="#fad8cf"/>
<rect x="399.42" y="789.24" width="21.56" height="21.29" fill="#ffbaa7"/>
<rect x="38.00" y="810.23" width="21.56" height="21.29" fill="#ffae97"/>
<rect x="59.26" y="810.23" width="21.56" height="21.29" fill="#ff9b80"/>
<rect x="80.52" y="810.23" width="21.56" height="21.29" fill="#ff9f85"/>
<rect x="101.78" y="810.23" width="21.56" height="21.29" fill="#e6dff0"/>
<rect x="123.04" y="810.23" width="21.56" height="21.29" fill="#ffb19c"/>
<rect x="144.30" y="810.23" width="21.56" height="21.29" fill="#ffbeac"/>
<rect x="165.56" y="810.23" width="21.56" height="21.29" fill="#f1e9e7"/>
<rect x="186.82" y="810.23" width="21.56" height="21.29" fill="#fbd4ca"/>
<rect x="208.08" y="810.23" width="21.56" height="21.29" fill="#ff9275"/>
<rect x="229.34" y="810.23" width="21.56" height="21.29" fill="#ffb19c"/>
<rect x="250.60" y="810.23" width="21.56" height="21.29" fill="#ffb5a0"/>
<rect x="271.86" y="810.23" width="21.56" height="21.29" fill="#f1e9e7"/>
<rect x="293.12" y="810.23" width="21.56" height="21.29" fill="#f1e9e7"/>
<rect x="314.38" y="810.23" width="21.56" height="21.29" fill="#f6e0db"/>
<rect x="335.64" y="810.23" width="21.56" height="21.29" fill="#ffbaa7"/>
<rect x="356.90" y="810.23" width="21.56" height="21.29" fill="#feccbe"/>
<rect x="378.16" y="810.23" width="21.56" height="21.29" fill="#feccbe"/>
<rect x="399.42" y="810.23" width="21.56" height="21.29" fill="#ff967a"/>
<rect x="38.00" y="831.22" width="21.56" height="21.29" fill="#ff9275"/>
<rect x="59.26" y="831.22" width="21.56" height="21.29" fill="#ff7f5f"/>
<rect x="80.52" y="831.22" width="21.56" height="21.29" fill="#ffc6b7"/>
<rect x="101.78" y="831.22" width="21.56" height="21.29" fill="#ebe7ef"/>
<rect x="123.04" y="831.22" width="21.56" height="21.29" fill="#fbd4ca"/>
<rect x="144.30" y="831.22" width="21.56" height="21.29" fill="#ffbaa7"/>
<rect x="165.56" y="831.22" width="21.56" height="21.29" fill="#eeeeee"/>
<rect x="186.82" y="831.22" width="21.56" height="21.29" fill="#e6dff0"/>
<rect x="208.08" y="831.22" width="21.56" height="21.29" fill="#ff9f85"/>
<rect x="229.34" y="831.22" width="21.56" height="21.29" fill="#ffbaa7"/>
<rect x="250.60" y="831.22" width="21.56" height="21.29" fill="#ff9b80"/>
<rect x="271.86" y="831.22" width="21.56" height="21.29" fill="#ebe7ef"/>
<rect x="293.12" y="831.22" width="21.56" height="21.29" fill="#e6dff0"/>
<rect x="314.38" y="831.22" width="21.56" height="21.29" fill="#dccef2"/>
<rect x="335.64" y="831.22" width="21.56" height="21.29" fill="#f1e9e7"/>
<rect x="356.90" y="831.22" width="21.56" height="21.29" fill="#f1e9e7"/>
<rect x="378.16" y="831.22" width="21.56" height="21.29" fill="#e9e5ef"/>
<rect x="399.42" y="831.22" width="21.56" height="21.29" fill="#ff9f85"/>
<rect x="38.00" y="852.21" width="21.56" height="21.29" fill="#f3e5e2"/>
<rect x="59.26" y="852.21" width="21.56" height="21.29" fill="#ffa58c"/>
<rect x="80.52" y="852.21" width="21.56" height="21.29" fill="#ffa890"/>
<rect x="101.78" y="852.21" width="21.56" height="21.29" fill="#dfd2f2"/>
<rect x="123.04" y="852.21" width="21.56" height="21.29" fill="#eceaef"/>
<rect x="144.30" y="852.21" width="21.56" height="21.29" fill="#fad8cf"/>
<rect x="165.56" y="852.21" width="21.56" height="21.29" fill="#e8e3f0"/>
<rect x="186.82" y="852.21" width="21.56" height="21.29" fill="#dfd2f2"/>
<rect x="208.08" y="852.21" width="21.56" height="21.29" fill="#ffc3b3"/>
<rect x="229.34" y="852.21" width="21.56" height="21.29" fill="#ffbeac"/>
<rect x="250.60" y="852.21" width="21.56" height="21.29" fill="#ffb19c"/>
<rect x="271.86" y="852.21" width="21.56" height="21.29" fill="#eeeeee"/>
<rect x="293.12" y="852.21" width="21.56" height="21.29" fill="#fad8cf"/>
<rect x="314.38" y="852.21" width="21.56" height="21.29" fill="#e5ddf0"/>
<rect x="335.64" y="852.21" width="21.56" height="21.29" fill="#dac9f3"/>
<rect x="356.90" y="852.21" width="21.56" height="21.29" fill="#f3e5e2"/>
<rect x="378.16" y="852.21" width="21.56" height="21.29" fill="#cfb8f5"/>
<rect x="399.42" y="852.21" width="21.56" height="21.29" fill="#ffb19c"/>
<rect x="38.00" y="873.20" width="21.56" height="21.29" fill="#ff9f85"/>
<rect x="59.26" y="873.20" width="21.56" height="21.29" fill="#ff5f3e"/>
<rect x="80.52" y="873.20" width="21.56" height="21.29" fill="#e6dff0"/>
<rect x="101.78" y="873.20" width="21.56" height="21.29" fill="#fad8cf"/>
<rect x="123.04" y="873.20" width="21.56" height="21.29" fill="#ff9f85"/>
<rect x="144.30" y="873.20" width="21.56" height="21.29" fill="#ffa58c"/>
<rect x="165.56" y="873.20" width="21.56" height="21.29" fill="#ffbaa7"/>
<rect x="186.82" y="873.20" width="21.56" height="21.29" fill="#fcd1c5"/>
<rect x="208.08" y="873.20" width="21.56" height="21.29" fill="#ffc6b7"/>
<rect x="229.34" y="873.20" width="21.56" height="21.29" fill="#ffbaa7"/>
<rect x="250.60" y="873.20" width="21.56" height="21.29" fill="#ffbaa7"/>
<rect x="271.86" y="873.20" width="21.56" height="21.29" fill="#a279fa"/>
<rect x="293.12" y="873.20" width="21.56" height="21.29" fill="#ff9f85"/>
<rect x="314.38" y="873.20" width="21.56" height="21.29" fill="#f0ebe9"/>
<rect x="335.64" y="873.20" width="21.56" height="21.29" fill="#ffc3b3"/>
<rect x="356.90" y="873.20" width="21.56" height="21.29" fill="#fad6cc"/>
<rect x="378.16" y="873.20" width="21.56" height="21.29" fill="#ffbaa7"/>
<rect x="399.42" y="873.20" width="21.56" height="21.29" fill="#ffbfae"/>
<rect x="38.00" y="894.19" width="21.56" height="21.29" fill="#dfd2f2"/>
<rect x="59.26" y="894.19" width="21.56" height="21.29" fill="#ff5f3e"/>
<rect x="80.52" y="894.19" width="21.56" height="21.29" fill="#c4a7f7"/>
<rect x="101.78" y="894.19" width="21.56" height="21.29" fill="#f5e2dd"/>
<rect x="123.04" y="894.19" width="21.56" height="21.29" fill="#ff9b80"/>
<rect x="144.30" y="894.19" width="21.56" height="21.29" fill="#ffb5a0"/>
<rect x="165.56" y="894.19" width="21.56" height="21.29" fill="#c9aef6"/>
<rect x="186.82" y="894.19" width="21.56" height="21.29" fill="#dfd2f2"/>
<rect x="208.08" y="894.19" width="21.56" height="21.29" fill="#fcd3c8"/>
<rect x="229.34" y="894.19" width="21.56" height="21.29" fill="#ff8364"/>
<rect x="250.60" y="894.19" width="21.56" height="21.29" fill="#f6e0db"/>
<rect x="271.86" y="894.19" width="21.56" height="21.29" fill="#d2bdf4"/>
<rect x="293.12" y="894.19" width="21.56" height="21.29" fill="#ff5f3e"/>
<rect x="314.38" y="894.19" width="21.56" height="21.29" fill="#f4e4e0"/>
<rect x="335.64" y="894.19" width="21.56" height="21.29" fill="#eceaef"/>
<rect x="356.90" y="894.19" width="21.56" height="21.29" fill="#f0ebe9"/>
<rect x="378.16" y="894.19" width="21.56" height="21.29" fill="#eeeeee"/>
<rect x="399.42" y="894.19" width="21.56" height="21.29" fill="#ffaa92"/>
<rect x="38.00" y="915.18" width="21.56" height="21.29" fill="#f6e0db"/>
<rect x="59.26" y="915.18" width="21.56" height="21.29" fill="#ff967a"/>
<rect x="80.52" y="915.18" width="21.56" height="21.29" fill="#d6c3f4"/>
<rect x="101.78" y="915.18" width="21.56" height="21.29" fill="#e5ddf0"/>
<rect x="123.04" y="915.18" width="21.56" height="21.29" fill="#ebe7ef"/>
<rect x="144.30" y="915.18" width="21.56" height="21.29" fill="#ffae97"/>
<rect x="165.56" y="915.18" width="21.56" height="21.29" fill="#f3e5e2"/>
<rect x="186.82" y="915.18" width="21.56" height="21.29" fill="#d2bdf4"/>
<rect x="208.08" y="915.18" width="21.56" height="21.29" fill="#fcd3c8"/>
<rect x="229.34" y="915.18" width="21.56" height="21.29" fill="#ff5837"/>
<rect x="250.60" y="915.18" width="21.56" height="21.29" fill="#ff967a"/>
<rect x="271.86" y="915.18" width="21.56" height="21.29" fill="#f5e2dd"/>
<rect x="293.12" y="915.18" width="21.56" height="21.29" fill="#cfb8f5"/>
<rect x="314.38" y="915.18" width="21.56" height="21.29" fill="#d6c3f4"/>
<rect x="335.64" y="915.18" width="21.56" height="21.29" fill="#c6a9f6"/>
<rect x="356.90" y="915.18" width="21.56" height="21.29" fill="#cfb8f5"/>
<rect x="378.16" y="915.18" width="21.56" height="21.29" fill="#c6a9f6"/>
<rect x="399.42" y="915.18" width="21.56" height="21.29" fill="#f6e0db"/>
<rect x="38.00" y="936.17" width="21.56" height="21.29" fill="#fad8cf"/>
<rect x="59.26" y="936.17" width="21.56" height="21.29" fill="#ffa58c"/>
<rect x="80.52" y="936.17" width="21.56" height="21.29" fill="#c4a7f7"/>
<rect x="101.78" y="936.17" width="21.56" height="21.29" fill="#ffb5a0"/>
<rect x="123.04" y="936.17" width="21.56" height="21.29" fill="#e0d4f2"/>
<rect x="144.30" y="936.17" width="21.56" height="21.29" fill="#c6a9f6"/>
<rect x="165.56" y="936.17" width="21.56" height="21.29" fill="#e2d8f1"/>
<rect x="186.82" y="936.17" width="21.56" height="21.29" fill="#fbd4ca"/>
<rect x="208.08" y="936.17" width="21.56" height="21.29" fill="#f1e9e7"/>
<rect x="229.34" y="936.17" width="21.56" height="21.29" fill="#feccbe"/>
<rect x="250.60" y="936.17" width="21.56" height="21.29" fill="#ffb7a2"/>
<rect x="271.86" y="936.17" width="21.56" height="21.29" fill="#ff9275"/>
<rect x="293.12" y="936.17" width="21.56" height="21.29" fill="#fdcfc3"/>
<rect x="314.38" y="936.17" width="21.56" height="21.29" fill="#d9c7f3"/>
<rect x="335.64" y="936.17" width="21.56" height="21.29" fill="#e8e3f0"/>
<rect x="356.90" y="936.17" width="21.56" height="21.29" fill="#feccbe"/>
<rect x="378.16" y="936.17" width="21.56" height="21.29" fill="#eeeeee"/>
<rect x="399.42" y="936.17" width="21.56" height="21.29" fill="#f7ddd6"/>
<rect x="38.00" y="957.16" width="21.56" height="21.29" fill="#f2e7e4"/>
<rect x="59.26" y="957.16" width="21.56" height="21.29" fill="#ff9a7e"/>
<rect x="80.52" y="957.16" width="21.56" height="21.29" fill="#a279fa"/>
<rect x="101.78" y="957.16" width="21.56" height="21.29" fill="#ffc3b3"/>
<rect x="123.04" y="957.16" width="21.56" height="21.29" fill="#e8e3f0"/>
<rect x="144.30" y="957.16" width="21.56" height="21.29" fill="#e8e3f0"/>
<rect x="165.56" y="957.16" width="21.56" height="21.29" fill="#c2a3f7"/>
<rect x="186.82" y="957.16" width="21.56" height="21.29" fill="#d6c3f4"/>
<rect x="208.08" y="957.16" width="21.56" height="21.29" fill="#d3bff4"/>
<rect x="229.34" y="957.16" width="21.56" height="21.29" fill="#f3e5e2"/>
<rect x="250.60" y="957.16" width="21.56" height="21.29" fill="#f1e9e7"/>
<rect x="271.86" y="957.16" width="21.56" height="21.29" fill="#f1e9e7"/>
<rect x="293.12" y="957.16" width="21.56" height="21.29" fill="#dfd2f2"/>
<rect x="314.38" y="957.16" width="21.56" height="21.29" fill="#fad8cf"/>
<rect x="335.64" y="957.16" width="21.56" height="21.29" fill="#af8af9"/>
<rect x="356.90" y="957.16" width="21.56" height="21.29" fill="#cfb8f5"/>
<rect x="378.16" y="957.16" width="21.56" height="21.29" fill="#c2a3f7"/>
<rect x="399.42" y="957.16" width="21.56" height="21.29" fill="#ffa890"/>
<rect x="38.00" y="978.15" width="21.56" height="21.29" fill="#dac9f3"/>
<rect x="59.26" y="978.15" width="21.56" height="21.29" fill="#ffa58c"/>
<rect x="80.52" y="978.15" width="21.56" height="21.29" fill="#e8e3f0"/>
<rect x="101.78" y="978.15" width="21.56" height="21.29" fill="#dccef2"/>
<rect x="123.04" y="978.15" width="21.56" height="21.29" fill="#a57dfa"/>
<rect x="144.30" y="978.15" width="21.56" height="21.29" fill="#ffc3b3"/>
<rect x="165.56" y="978.15" width="21.56" height="21.29" fill="#ffa58c"/>
<rect x="186.82" y="978.15" width="21.56" height="21.29" fill="#c2a3f7"/>
<rect x="208.08" y="978.15" width="21.56" height="21.29" fill="#bf9ff7"/>
<rect x="229.34" y="978.15" width="21.56" height="21.29" fill="#ffbaa7"/>
<rect x="250.60" y="978.15" width="21.56" height="21.29" fill="#ffc3b3"/>
<rect x="271.86" y="978.15" width="21.56" height="21.29" fill="#e8e3f0"/>
<rect x="293.12" y="978.15" width="21.56" height="21.29" fill="#c2a3f7"/>
<rect x="314.38" y="978.15" width="21.56" height="21.29" fill="#b38ef9"/>
<rect x="335.64" y="978.15" width="21.56" height="21.29" fill="#ffae97"/>
<rect x="356.90" y="978.15" width="21.56" height="21.29" fill="#ffa890"/>
<rect x="378.16" y="978.15" width="21.56" height="21.29" fill="#ffae97"/>
<rect x="399.42" y="978.15" width="21.56" height="21.29" fill="#e2d8f1"/>
<rect x="38.00" y="999.14" width="21.56" height="21.29" fill="#f7ddd6"/>
<rect x="59.26" y="999.14" width="21.56" height="21.29" fill="#dfd2f2"/>
<rect x="80.52" y="999.14" width="21.56" height="21.29" fill="#996efb"/>
<rect x="101.78" y="999.14" width="21.56" height="21.29" fill="#ffb19c"/>
<rect x="123.04" y="999.14" width="21.56" height="21.29" fill="#ff967a"/>
<rect x="144.30" y="999.14" width="21.56" height="21.29" fill="#b692f8"/>
<rect x="165.56" y="999.14" width="21.56" height="21.29" fill="#e0d4f2"/>
<rect x="186.82" y="999.14" width="21.56" height="21.29" fill="#e0d4f2"/>
<rect x="208.08" y="999.14" width="21.56" height="21.29" fill="#f7ddd6"/>
<rect x="229.34" y="999.14" width="21.56" height="21.29" fill="#c9aef6"/>
<rect x="250.60" y="999.14" width="21.56" height="21.29" fill="#c2a3f7"/>
<rect x="271.86" y="999.14" width="21.56" height="21.29" fill="#aa83fa"/>
<rect x="293.12" y="999.14" width="21.56" height="21.29" fill="#ff967a"/>
<rect x="314.38" y="999.14" width="21.56" height="21.29" fill="#ffc6b7"/>
<rect x="335.64" y="999.14" width="21.56" height="21.29" fill="#e8e3f0"/>
<rect x="356.90" y="999.14" width="21.56" height="21.29" fill="#c2a3f7"/>
<rect x="378.16" y="999.14" width="21.56" height="21.29" fill="#ffc6b7"/>
<rect x="399.42" y="999.14" width="21.56" height="21.29" fill="#ffbfae"/>
<rect x="38.00" y="1020.13" width="21.56" height="21.29" fill="#dccef2"/>
<rect x="59.26" y="1020.13" width="21.56" height="21.29" fill="#dfd2f2"/>
<rect x="80.52" y="1020.13" width="21.56" height="21.29" fill="#9d73fb"/>
<rect x="101.78" y="1020.13" width="21.56" height="21.29" fill="#ffbaa7"/>
<rect x="123.04" y="1020.13" width="21.56" height="21.29" fill="#ffb5a0"/>
<rect x="144.30" y="1020.13" width="21.56" height="21.29" fill="#dfd2f2"/>
<rect x="165.56" y="1020.13" width="21.56" height="21.29" fill="#ebe7ef"/>
<rect x="186.82" y="1020.13" width="21.56" height="21.29" fill="#f7ddd6"/>
<rect x="208.08" y="1020.13" width="21.56" height="21.29" fill="#e8e3f0"/>
<rect x="229.34" y="1020.13" width="21.56" height="21.29" fill="#c9aef6"/>
<rect x="250.60" y="1020.13" width="21.56" height="21.29" fill="#af8af9"/>
<rect x="271.86" y="1020.13" width="21.56" height="21.29" fill="#e8e3f0"/>
<rect x="293.12" y="1020.13" width="21.56" height="21.29" fill="#feccbe"/>
<rect x="314.38" y="1020.13" width="21.56" height="21.29" fill="#eeeeee"/>
<rect x="335.64" y="1020.13" width="21.56" height="21.29" fill="#8054fd"/>
<rect x="356.90" y="1020.13" width="21.56" height="21.29" fill="#dccef2"/>
<rect x="378.16" y="1020.13" width="21.56" height="21.29" fill="#996efb"/>
<rect x="399.42" y="1020.13" width="21.56" height="21.29" fill="#eeeeee"/>
<rect x="38.00" y="1041.12" width="21.56" height="21.29" fill="#e8e3f0"/>
<rect x="59.26" y="1041.12" width="21.56" height="21.29" fill="#ffb19c"/>
<rect x="80.52" y="1041.12" width="21.56" height="21.29" fill="#ff0000"/>
<rect x="101.78" y="1041.12" width="21.56" height="21.29" fill="#feccbe"/>
<rect x="123.04" y="1041.12" width="21.56" height="21.29" fill="#b38ef9"/>
<rect x="144.30" y="1041.12" width="21.56" height="21.29" fill="#9368fc"/>
<rect x="165.56" y="1041.12" width="21.56" height="21.29" fill="#ff7b5b"/>
<rect x="186.82" y="1041.12" width="21.56" height="21.29" fill="#8b5ffc"/>
<rect x="208.08" y="1041.12" width="21.56" height="21.29" fill="#4523fe"/>
<rect x="229.34" y="1041.12" width="21.56" height="21.29" fill="#ffc3b3"/>
<rect x="250.60" y="1041.12" width="21.56" height="21.29" fill="#ff9f85"/>
<rect x="271.86" y="1041.12" width="21.56" height="21.29" fill="#ffa58c"/>
<rect x="293.12" y="1041.12" width="21.56" height="21.29" fill="#0000ff"/>
<rect x="314.38" y="1041.12" width="21.56" height="21.29" fill="#ffae97"/>
<rect x="335.64" y="1041.12" width="21.56" height="21.29" fill="#ff7f5f"/>
<rect x="356.90" y="1041.12" width="21.56" height="21.29" fill="#ffae97"/>
<rect x="378.16" y="1041.12" width="21.56" height="21.29" fill="#ff7554"/>
<rect x="399.42" y="1041.12" width="21.56" height="21.29" fill="#ff6645"/>
<rect x="38.00" y="1062.11" width="21.56" height="21.29" fill="#aa83fa"/>
<rect x="59.26" y="1062.11" width="21.56" height="21.29" fill="#aa83fa"/>
<rect x="80.52" y="1062.11" width="21.56" height="21.29" fill="#dac9f3"/>
<rect x="101.78" y="1062.11" width="21.56" height="21.29" fill="#e2d8f1"/>
<rect x="123.04" y="1062.11" width="21.56" height="21.29" fill="#5b34fe"/>
<rect x="144.30" y="1062.11" width="21.56" height="21.29" fill="#b38ef9"/>
<rect x="165.56" y="1062.11" width="21.56" height="21.29" fill="#cdb4f5"/>
<rect x="186.82" y="1062.11" width="21.56" height="21.29" fill="#aa83fa"/>
<rect x="208.08" y="1062.11" width="21.56" height="21.29" fill="#8054fd"/>
<rect x="229.34" y="1062.11" width="21.56" height="21.29" fill="#c9aef6"/>
<rect x="250.60" y="1062.11" width="21.56" height="21.29" fill="#ba99f8"/>
<rect x="271.86" y="1062.11" width="21.56" height="21.29" fill="#ff0000"/>
<rect x="293.12" y="1062.11" width="21.56" height="21.29" fill="#c9aef6"/>
<rect x="314.38" y="1062.11" width="21.56" height="21.29" fill="#ba99f8"/>
<rect x="335.64" y="1062.11" width="21.56" height="21.29" fill="#8b5ffc"/>
<rect x="356.90" y="1062.11" width="21.56" height="21.29" fill="#c9aef6"/>
<rect x="378.16" y="1062.11" width="21.56" height="21.29" fill="#9e75fb"/>
<rect x="399.42" y="1062.11" width="21.56" height="21.29" fill="#e2d8f1"/>
<rect x="38.00" y="1083.10" width="21.56" height="21.29" fill="#cdb4f5"/>
<rect x="59.26" y="1083.10" width="21.56" height="21.29" fill="#b38ef9"/>
<rect x="80.52" y="1083.10" width="21.56" height="21.29" fill="#af8af9"/>
<rect x="101.78" y="1083.10" width="21.56" height="21.29" fill="#b692f8"/>
<rect x="123.04" y="1083.10" width="21.56" height="21.29" fill="#e0d4f2"/>
<rect x="144.30" y="1083.10" width="21.56" height="21.29" fill="#fad8cf"/>
<rect x="165.56" y="1083.10" width="21.56" height="21.29" fill="#ffbfae"/>
<rect x="186.82" y="1083.10" width="21.56" height="21.29" fill="#a77ffa"/>
<rect x="208.08" y="1083.10" width="21.56" height="21.29" fill="#d9c7f3"/>
<rect x="229.34" y="1083.10" width="21.56" height="21.29" fill="#ff967a"/>
<rect x="250.60" y="1083.10" width="21.56" height="21.29" fill="#bf9ff7"/>
<rect x="271.86" y="1083.10" width="21.56" height="21.29" fill="#996efb"/>
<rect x="293.12" y="1083.10" width="21.56" height="21.29" fill="#dccef2"/>
<rect x="314.38" y="1083.10" width="21.56" height="21.29" fill="#dccef2"/>
<rect x="335.64" y="1083.10" width="21.56" height="21.29" fill="#a279fa"/>
<rect x="356.90" y="1083.10" width="21.56" height="21.29" fill="#d2bdf4"/>
<rect x="378.16" y="1083.10" width="21.56" height="21.29" fill="#a77ffa"/>
<rect x="399.42" y="1083.10" width="21.56" height="21.29" fill="#c9aef6"/>
<rect x="38.00" y="1104.09" width="21.56" height="21.29" fill="#6d42fd"/>
<rect x="59.26" y="1104.09" width="21.56" height="21.29" fill="#e2d8f1"/>
<rect x="80.52" y="1104.09" width="21.56" height="21.29" fill="#0000ff"/>
<rect x="101.78" y="1104.09" width="21.56" height="21.29" fill="#c2a3f7"/>
<rect x="123.04" y="1104.09" width="21.56" height="21.29" fill="#aa83fa"/>
<rect x="144.30" y="1104.09" width="21.56" height="21.29" fill="#bf9ff7"/>
<rect x="165.56" y="1104.09" width="21.56" height="21.29" fill="#a279fa"/>
<rect x="186.82" y="1104.09" width="21.56" height="21.29" fill="#aa83fa"/>
<rect x="208.08" y="1104.09" width="21.56" height="21.29" fill="#c6a9f6"/>
<rect x="229.34" y="1104.09" width="21.56" height="21.29" fill="#e2d8f1"/>
<rect x="250.60" y="1104.09" width="21.56" height="21.29" fill="#d2bdf4"/>
<rect x="271.86" y="1104.09" width="21.56" height="21.29" fill="#996efb"/>
<rect x="293.12" y="1104.09" width="21.56" height="21.29" fill="#af8af9"/>
<rect x="314.38" y="1104.09" width="21.56" height="21.29" fill="#aa83fa"/>
<rect x="335.64" y="1104.09" width="21.56" height="21.29" fill="#9e75fb"/>
<rect x="356.90" y="1104.09" width="21.56" height="21.29" fill="#9e75fb"/>
<rect x="378.16" y="1104.09" width="21.56" height="21.29" fill="#a279fa"/>
<rect x="399.42" y="1104.09" width="21.56" height="21.29" fill="#956afb"/>
<rect x="38.00" y="1125.08" width="21.56" height="21.29" fill="#b38ef9"/>
<rect x="59.26" y="1125.08" width="21.56" height="21.29" fill="#e2d8f1"/>
<rect x="80.52" y="1125.08" width="21.56" height="21.29" fill="#996efb"/>
<rect x="101.78" y="1125.08" width="21.56" height="21.29" fill="#f1e9e7"/>
<rect x="123.04" y="1125.08" width="21.56" height="21.29" fill="#9368fc"/>
<rect x="144.30" y="1125.08" width="21.56" height="21.29" fill="#9368fc"/>
<rect x="165.56" y="1125.08" width="21.56" height="21.29" fill="#b490f9"/>
<rect x="186.82" y="1125.08" width="21.56" height="21.29" fill="#7e52fd"/>
<rect x="208.08" y="1125.08" width="21.56" height="21.29" fill="#8054fd"/>
<rect x="229.34" y="1125.08" width="21.56" height="21.29" fill="#feccbe"/>
<rect x="250.60" y="1125.08" width="21.56" height="21.29" fill="#f5e2dd"/>
<rect x="271.86" y="1125.08" width="21.56" height="21.29" fill="#ffbfae"/>
<rect x="293.12" y="1125.08" width="21.56" height="21.29" fill="#a77ffa"/>
<rect x="314.38" y="1125.08" width="21.56" height="21.29" fill="#aa83fa"/>
<rect x="335.64" y="1125.08" width="21.56" height="21.29" fill="#250fff"/>
<rect x="356.90" y="1125.08" width="21.56" height="21.29" fill="#653bfe"/>
<rect x="378.16" y="1125.08" width="21.56" height="21.29" fill="#4523fe"/>
<rect x="399.42" y="1125.08" width="21.56" height="21.29" fill="#9d73fb"/>
<rect x="38.00" y="1146.07" width="21.56" height="21.29" fill="#b692f8"/>
<rect x="59.26" y="1146.07" width="21.56" height="21.29" fill="#ffbaa7"/>
<rect x="80.52" y="1146.07" width="21.56" height="21.29" fill="#aa83fa"/>
<rect x="101.78" y="1146.07" width="21.56" height="21.29" fill="#dfd2f2"/>
<rect x="123.04" y="1146.07" width="21.56" height="21.29" fill="#aa83fa"/>
<rect x="144.30" y="1146.07" width="21.56" height="21.29" fill="#8b5ffc"/>
<rect x="165.56" y="1146.07" width="21.56" height="21.29" fill="#976cfb"/>
<rect x="186.82" y="1146.07" width="21.56" height="21.29" fill="#a77ffa"/>
<rect x="208.08" y="1146.07" width="21.56" height="21.29" fill="#552ffe"/>
<rect x="229.34" y="1146.07" width="21.56" height="21.29" fill="#fcd1c5"/>
<rect x="250.60" y="1146.07" width="21.56" height="21.29" fill="#ffb5a0"/>
<rect x="271.86" y="1146.07" width="21.56" height="21.29" fill="#ebe7ef"/>
<rect x="293.12" y="1146.07" width="21.56" height="21.29" fill="#a57dfa"/>
<rect x="314.38" y="1146.07" width="21.56" height="21.29" fill="#d3bff4"/>
<rect x="335.64" y="1146.07" width="21.56" height="21.29" fill="#0000ff"/>
<rect x="356.90" y="1146.07" width="21.56" height="21.29" fill="#0000ff"/>
<rect x="378.16" y="1146.07" width="21.56" height="21.29" fill="#0000ff"/>
<rect x="399.42" y="1146.07" width="21.56" height="21.29" fill="#af8af9"/>
</g>
<rect x="420.68" y="662.3" width="3" height="506.76" fill="#fff"/>
<rect x="37.0" y="1167.06" width="385.68" height="3" fill="#fff"/>
<text x="428.3" y="678.09" font-size="14" fill="#000">Leucovorin calcium</text>
<text x="428.3" y="699.08" font-size="14" fill="#000">Bevacizumab</text>
<text x="428.3" y="720.07" font-size="14" fill="#000">Olaparib</text>
<text x="428.3" y="741.06" font-size="14" fill="#000">Resveratrol</text>
<text x="428.3" y="762.05" font-size="14" fill="#000">Cyclopamine</text>
<text x="428.3" y="783.04" font-size="14" fill="#000">AZD2014</text>
<text x="428.3" y="804.03" font-size="14" fill="#000">MK5108</text>
<text x="428.3" y="825.02" font-size="14" fill="#000">Curcumin</text>
<text x="428.3" y="846.01" font-size="14" fill="#000">Baicalein</text>
<text x="428.3" y="867.00" font-size="14" fill="#000">Genistein</text>
<text x="428.3" y="887.99" font-size="14" fill="#000">Oxaliplatin</text>
<text x="428.3" y="908.98" font-size="14" fill="#000">Irinotecan</text>
<text x="428.3" y="929.97" font-size="14" fill="#000">SAHA</text>
<text x="428.3" y="950.96" font-size="14" fill="#000">ICG-001</text>
<text x="428.3" y="971.95" font-size="14" fill="#000">TAS-102</text>
<text x="428.3" y="992.94" font-size="14" fill="#000">Afatinib</text>
<text x="428.3" y="1013.93" font-size="14" fill="#000">Capecitabine</text>
<text x="428.3" y="1034.92" font-size="14" fill="#000">Regorafenib</text>
<text x="428.3" y="1055.91" font-size="14" fill="#000">Cetuximab</text>
<text x="428.3" y="1076.90" font-size="14" fill="#000">Apitolisib</text>
<text x="428.3" y="1097.89" font-size="14" fill="#000">Buparisib</text>
<text x="428.3" y="1118.88" font-size="14" fill="#000">5-Fu</text>
<text x="428.3" y="1139.87" font-size="14" fill="#000">Belinostat</text>
<text x="428.3" y="1160.87" font-size="14" fill="#000">Trametinib</text>
<text transform="translate(51.85 1172.2) rotate(-90)" font-size="13.33" text-anchor="end" fill="#000">SNU-1566</text>
<text transform="translate(73.31 1172.2) rotate(-90)" font-size="13.33" text-anchor="end" fill="#000">SNU-1983</text>
<text transform="translate(94.77 1172.2) rotate(-90)" font-size="13.33" text-anchor="end" fill="#000">SNU-2172</text>
<text transform="translate(116.23 1172.2) rotate(-90)" font-size="13.33" text-anchor="end" fill="#000">SNU-2297</text>
<text transform="translate(137.69 1172.2) rotate(-90)" font-size="13.33" text-anchor="end" fill="#000">SNU-2303</text>
<text transform="translate(159.15 1172.2) rotate(-90)" font-size="13.33" text-anchor="end" fill="#000">SNU-2353B</text>
<text transform="translate(180.61 1172.2) rotate(-90)" font-size="13.33" text-anchor="end" fill="#000">SNU-2359</text>
<text transform="translate(202.07 1172.2) rotate(-90)" font-size="13.33" text-anchor="end" fill="#000">SNU-2373B</text>
<text transform="translate(223.53 1172.2) rotate(-90)" font-size="13.33" text-anchor="end" fill="#000">SNU-2407</text>
<text transform="translate(244.99 1172.2) rotate(-90)" font-size="13.33" text-anchor="end" fill="#000">SNU-2423</text>
<text transform="translate(266.45 1172.2) rotate(-90)" font-size="13.33" text-anchor="end" fill="#000">SNU-2431</text>
<text transform="translate(287.91 1172.2) rotate(-90)" font-size="13.33" text-anchor="end" fill="#000">SNU-2465</text>
<text transform="translate(309.37 1172.2) rotate(-90)" font-size="13.33" text-anchor="end" fill="#000">SNU-2493</text>
<text transform="translate(330.83 1172.2) rotate(-90)" font-size="13.33" text-anchor="end" fill="#000">SNU-2536C</text>
<text transform="translate(352.29 1172.2) rotate(-90)" font-size="13.33" text-anchor="end" fill="#000">SNU-2621B</text>
<text transform="translate(373.75 1172.2) rotate(-90)" font-size="13.33" text-anchor="end" fill="#000">SNU-NCC-61</text>
<text transform="translate(395.21 1172.2) rotate(-90)" font-size="13.33" text-anchor="end" fill="#000">SNU-NCC-376</text>
<text transform="translate(416.67 1172.2) rotate(-90)" font-size="13.33" text-anchor="end" fill="#000">SNU-NCC-377</text>
<path d="M37.30 673.79H31.40V694.78H37.30M37.30 736.76H32.90V757.75H37.30M37.30 715.77H31.90V747.26H32.90M31.40 684.29H31.40V731.52H31.90M37.30 778.74H33.90V799.73H37.30M37.30 820.72H34.60V841.71H37.30M34.60 831.22H34.20V862.70H37.30M33.90 789.24H32.40V846.96H34.20M37.30 883.69H32.70V904.68H37.30M32.40 818.10H32.90V894.19H32.70M37.30 946.66H32.50V967.65H37.30M37.30 925.67H32.20V957.16H32.50M32.20 941.42H30.60V988.64H37.30M32.90 856.15H30.10V965.03H30.60M37.30 1009.63H32.20V1030.62H37.30M30.10 910.59H28.80V1020.13H32.20M31.40 707.90H24.20V965.36H28.80M24.20 836.63H23.50V1051.62H37.30M37.30 1093.59H31.10V1114.59H37.30M37.30 1135.57H33.60V1156.57H37.30M31.10 1104.09H28.70V1146.07H33.60M37.30 1072.61H28.50V1125.08H28.70M23.50 944.12H18.60V1098.84H28.50" stroke="#333" stroke-width="0.7" fill="none"/>
<text x="554.3" y="890.6" font-size="13.7" font-weight="bold" fill="#000">AUC</text>
<defs><linearGradient id="g" x1="0" y1="0" x2="0" y2="1">
<stop offset="0.0000" stop-color="#ff0000"/>
<stop offset="0.0250" stop-color="#ff0f04"/>
<stop offset="0.0500" stop-color="#ff2e16"/>
<stop offset="0.0750" stop-color="#ff4124"/>
<stop offset="0.1000" stop-color="#ff5031"/>
<stop offset="0.1250" stop-color="#ff5d3c"/>
<stop offset="0.1500" stop-color="#ff6948"/>
<stop offset="0.1750" stop-color="#ff7454"/>
<stop offset="0.2000" stop-color="#ff7f5f"/>
<stop offset="0.2250" stop-color="#ff896b"/>
<stop offset="0.2500" stop-color="#ff9376"/>
<stop offset="0.2750" stop-color="#ff9d82"/>
<stop offset="0.3000" stop-color="#ffa78e"/>
<stop offset="0.3250" stop-color="#ffb09a"/>
<stop offset="0.3500" stop-color="#ffb9a6"/>
<stop offset="0.3750" stop-color="#ffc3b2"/>
<stop offset="0.4000" stop-color="#feccbf"/>
<stop offset="0.4250" stop-color="#fbd5cb"/>
<stop offset="0.4500" stop-color="#f7ded7"/>
<stop offset="0.4750" stop-color="#f2e7e4"/>
<stop offset="0.5000" stop-color="#edebee"/>
<stop offset="0.5250" stop-color="#e7e0f0"/>
<stop offset="0.5500" stop-color="#e0d5f1"/>
<stop offset="0.5750" stop-color="#dac9f3"/>
<stop offset="0.6000" stop-color="#d3bef4"/>
<stop offset="0.6250" stop-color="#ccb3f5"/>
<stop offset="0.6500" stop-color="#c5a8f7"/>
<stop offset="0.6750" stop-color="#bd9df8"/>
<stop offset="0.7000" stop-color="#b592f9"/>
<stop offset="0.7250" stop-color="#ad87f9"/>
<stop offset="0.7500" stop-color="#a47bfa"/>
<stop offset="0.7750" stop-color="#9b70fb"/>
<stop offset="0.8000" stop-color="#9165fc"/>
<stop offset="0.8250" stop-color="#865afc"/>
<stop offset="0.8500" stop-color="#7a4efd"/>
<stop offset="0.8750" stop-color="#6d42fd"/>
<stop offset="0.9000" stop-color="#5d35fe"/>
<stop offset="0.9250" stop-color="#4b27fe"/>
<stop offset="0.9500" stop-color="#3016ff"/>
<stop offset="0.9750" stop-color="#0000ff"/>
<stop offset="1.0000" stop-color="#0000ff"/>
</linearGradient></defs>
<rect x="556.8" y="898.7" width="12.8" height="71.80" fill="url(#g)"/>
<path d="M556.8 900.10h2.3M569.6 900.10h-2.3" stroke="#fff" stroke-width="0.9"/>
<text x="574.2" y="903.90" font-size="10.9" font-weight="bold" fill="#000">3</text>
<path d="M556.8 913.74h2.3M569.6 913.74h-2.3" stroke="#fff" stroke-width="0.9"/>
<text x="574.2" y="917.54" font-size="10.9" font-weight="bold" fill="#000">2.5</text>
<path d="M556.8 927.38h2.3M569.6 927.38h-2.3" stroke="#fff" stroke-width="0.9"/>
<text x="574.2" y="931.18" font-size="10.9" font-weight="bold" fill="#000">2</text>
<path d="M556.8 941.02h2.3M569.6 941.02h-2.3" stroke="#fff" stroke-width="0.9"/>
<text x="574.2" y="944.82" font-size="10.9" font-weight="bold" fill="#000">1.5</text>
<path d="M556.8 954.66h2.3M569.6 954.66h-2.3" stroke="#fff" stroke-width="0.9"/>
<text x="574.2" y="958.46" font-size="10.9" font-weight="bold" fill="#000">1</text>
<path d="M556.8 968.30h2.3M569.6 968.30h-2.3" stroke="#fff" stroke-width="0.9"/>
<text x="574.2" y="972.10" font-size="10.9" font-weight="bold" fill="#000">0.5</text>
</svg>
</body></html>
